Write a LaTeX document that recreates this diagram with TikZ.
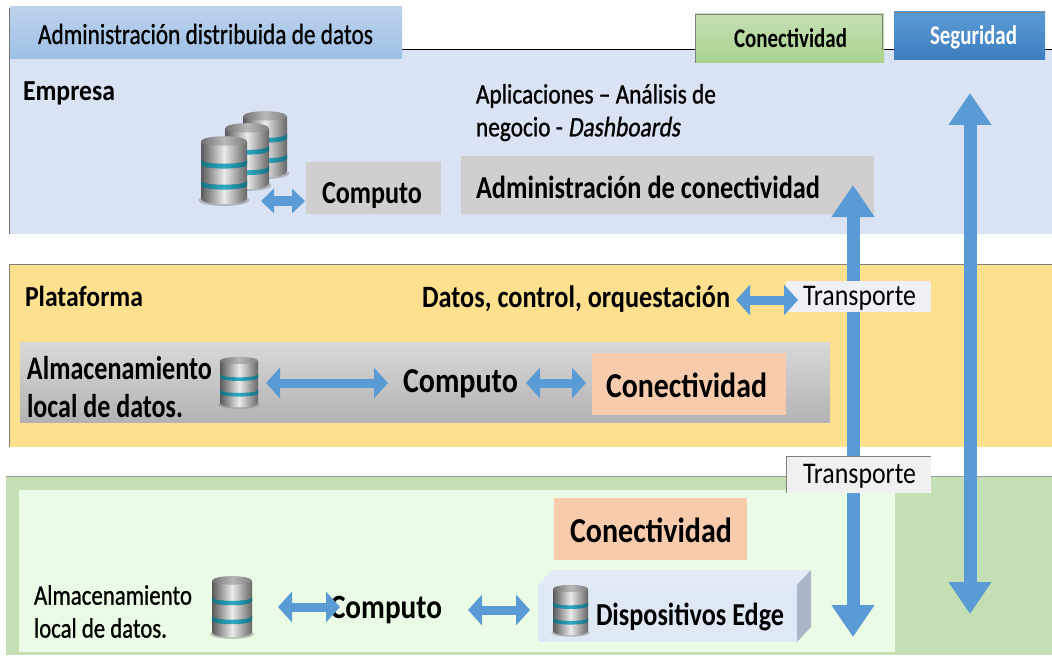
\documentclass[tikz,border=0pt]{standalone}
\usepackage{fontspec}
\setmainfont{Carlito}
\newcommand{\semi}{\bfseries}
\newfontfamily\semil[FakeBold=1]{Carlito}
\newfontfamily\semii[FakeBold=1,FakeSlant=0.18]{Carlito}
\usetikzlibrary{arrows.meta}
\definecolor{empresaBg}{HTML}{D9E3F3}
\definecolor{plataBg}{HTML}{FEE08F}
\definecolor{edgeBg}{HTML}{C5DFB5}
\definecolor{edgeIn}{HTML}{EAFCE5}
\definecolor{arrowBlue}{HTML}{5B9BD5}
\definecolor{boxGray}{HTML}{D0CECE}
\definecolor{orangeBox}{HTML}{F8CBAD}
\definecolor{titleTop}{HTML}{BDD2EC}
\definecolor{titleBot}{HTML}{9DC0E6}
\definecolor{edgeFront}{HTML}{DFE9F5}
\definecolor{edgeTop}{HTML}{E3ECF6}
\definecolor{edgeSide}{HTML}{A9B6C6}
\definecolor{dbBand}{HTML}{2FA9C4}
\definecolor{dbBandDark}{HTML}{15707F}
\definecolor{trA}{HTML}{EEF0F6}
\newcommand{\fitw}[3]{\resizebox{#1pt}{\height}{\fontsize{#2pt}{#2pt}\selectfont #3}}
\newcommand{\dbicon}[4]{%
\begin{scope}[shift={(#1,#2)},x=#3pt,y=-#4pt]
\fill[black!45,opacity=.55] (-.05,.93) .. controls (-.05,1.04) and (1.05,1.04) .. (1.05,.93) .. controls (1.05,.85) and (-.05,.85) .. (-.05,.93) -- cycle;
\shade[left color=black!65,right color=black!60,middle color=black!8] (0,.1) -- (0,.9) .. controls (0,1.02) and (1,1.02) .. (1,.9) -- (1,.1) .. controls (1,0) and (0,0) .. (0,.1) -- cycle;
\shade[left color=black!55,right color=black!50,middle color=black!28] (0,.1) .. controls (0,.17) and (1,.17) .. (1,.1) .. controls (1,-.01) and (0,-.01) .. (0,.1) -- cycle;
\foreach \by in {.35,.65}{
\shade[left color=dbBandDark,right color=dbBandDark,middle color=dbBand] (0,\by) -- (0,\by+.07) .. controls (0,\by+.15) and (1,\by+.15) .. (1,\by+.07) -- (1,\by) .. controls (1,\by+.08) and (0,\by+.08) .. (0,\by) -- cycle;
}
\end{scope}}
\tikzset{
 label/.style={inner sep=0pt,outer sep=0pt,anchor=west,text=black,yshift=-1pt},
 blockarrow/.style={draw=arrowBlue,line width=9pt,{Triangle[length=14pt,width=30pt]}-{Triangle[length=14pt,width=30pt]}},
 smallarrow/.style={draw=arrowBlue,line width=10pt,{Triangle[length=13pt,width=24pt]}-{Triangle[length=13pt,width=24pt]}},
 bigarrow/.style={draw=arrowBlue,line width=13pt,{Triangle[length=32pt,width=41pt]}-{Triangle[length=32pt,width=41pt]}},
 txtbox/.style={inner sep=0pt,outer sep=0pt}
}
\begin{document}
\begin{tikzpicture}[x=1pt,y=-1pt]
\useasboundingbox (0,0) rectangle (1052,658);
\fill[white] (0,0) rectangle (1052,658);
% bands
\fill[empresaBg] (9,50) rectangle (1052,234);
\draw[black,line width=1pt] (400,50) -- (1052,50);
\draw[black!55,line width=1pt] (9,8) -- (9,234);
\fill[plataBg] (9,264) rectangle (1052,447);
\draw[black!50,line width=.8pt] (9,264) -- (1052,264);
\draw[black!50,line width=.8pt] (9,264) -- (9,447);
\fill[edgeBg] (6,476) rectangle (1052,655);
\draw[black!40,line width=.8pt] (6,476) -- (1052,476);
\fill[edgeIn] (19,490) rectangle (895,652);
% tabs
\shade[top color=titleTop,bottom color=titleBot] (10,7) rectangle (402,59);
\node[label] (title) at (38,33) {\fitw{335}{29}{\semil Administración distribuida de datos}};
\shade[top color={rgb,255:red,197;green,224;blue,180},bottom color={rgb,255:red,169;green,209;blue,142}] (695,14) rectangle (884,63);
\draw[black!50,line width=.8pt] (695,63) -- (695,14) -- (882,14) -- (882,50);
\node[label] (tabcon) at (734,37) {\fitw{113}{27}{\semi Conectividad}};
\shade[top color={rgb,255:red,91;green,155;blue,213},bottom color={rgb,255:red,62;green,125;blue,190}] (894,12) rectangle (1045,60);
\draw[black!50,line width=.8pt] (894,12) -- (1045,12);
\node[label,text=white] (tabseg) at (930,36) {\fitw{87}{27}{\bfseries Seguridad}};
% empresa
\node[label] (empresa) at (23,92) {\fitw{92}{29}{\semi Empresa}};
\node[label] (apl1) at (476,95) {\fitw{240}{28}{\semil Aplicaciones – Análisis de}};
\node[label] (apl2) at (476,128) {\fitw{204}{28}{\semil negocio - \semii Dashboards}};
\dbicon{243}{110}{44}{68}
\dbicon{225}{122}{44}{68}
\dbicon{201}{135}{46}{70}
\node[txtbox,fill=boxGray,minimum width=135pt,minimum height=52pt] (compA) at (373.5,188) {};
\node[label] (compAt) at (322,195) {\fitw{100}{32}{\semi Computo}};
\node[txtbox,fill=boxGray,minimum width=413pt,minimum height=58pt] (admin) at (667,185) {};
\node[label] (admint) at (476,186) {\fitw{344}{32}{\semi Administración de conectividad}};
\coordinate (aL) at (261,201);
\coordinate (aR) at (305,201);
\draw[smallarrow] (aL) -- (aR);
% plataforma
\node[label] (plat) at (25,295) {\fitw{118}{29}{\semi Plataforma}};
\node[label] (datos) at (422,298) {\fitw{308}{31}{\semi Datos, control, orquestación}};
\shade[top color=black!15,bottom color=black!30] (20,342) rectangle (830,422);
\node[label] (alm1) at (27,367) {\fitw{185}{33}{\semi Almacenamiento}};
\node[label] (alm2) at (27,405) {\fitw{156}{33}{\semi local de datos.}};
\dbicon{220}{356}{38}{52}
\node[label] (compB) at (403,383) {\fitw{115}{35}{\semi Computo}};
\node[txtbox,fill=orangeBox,minimum width=194pt,minimum height=62pt] (conB) at (689,384) {};
\node[label] (conBt) at (606,384) {\fitw{161}{35}{\semi Conectividad}};
\coordinate (bL) at (266,383);
\coordinate (bR) at (388,383);
\draw[blockarrow] (bL) -- (bR);
\coordinate (cL) at (526,383);
\coordinate (cR) at (586,383);
\draw[blockarrow] (cL) -- (cR);
% edge
\node[txtbox,fill=orangeBox,minimum width=193pt,minimum height=62pt] (conC) at (650.5,529) {};
\node[label] (conCt) at (570,529) {\fitw{162}{35}{\semi Conectividad}};
\fill[edgeTop] (538,585) -- (552,570) -- (811,570) -- (797,585) -- cycle;
\fill[edgeFront] (538,585) rectangle (797,642);
\fill[edgeSide] (797,585) -- (811,570) -- (811,627) -- (797,642) -- cycle;
\dbicon{553}{584}{35}{52}
\node[label] (disp) at (596,616) {\fitw{188}{32}{\semi Dispositivos Edge}};
\node[label] (alm3) at (34,594) {\fitw{158}{28}{\semil Almacenamiento}};
\node[label] (alm4) at (34,627) {\fitw{133}{28}{\semil local de datos.}};
\dbicon{212}{575}{40}{63}
\node[label] (compC) at (330,609) {\fitw{112}{34}{\semi Computo}};
\coordinate (dL) at (278,607);
\coordinate (dR) at (340,607);
\draw[blockarrow] (dL) -- (dR);
\coordinate (eL) at (468,610);
\coordinate (eR) at (530,610);
\draw[blockarrow] (eL) -- (eR);
% long arrows
\coordinate (mT) at (853,185);
\coordinate (mB) at (853,637);
\draw[bigarrow] (mT) -- (mB);
\coordinate (sT) at (970,93);
\coordinate (sB) at (970,614);
\draw[bigarrow] (sT) -- (sB);
% transporte
\node[txtbox,fill=trA,minimum width=145pt,minimum height=31pt] (trAbox) at (858.5,296.5) {};
\node[label] (trAt) at (803,297) {\fitw{113}{30}{Transporte}};
\node[txtbox,fill=black!6,minimum width=145pt,minimum height=37pt] (trBbox) at (858.5,474.5) {};
\draw[black!50,line width=.8pt] (trBbox.south west) -- (trBbox.north west) -- (trBbox.north east);
\node[label] (trBt) at (803,475) {\fitw{113}{30}{Transporte}};
\coordinate (fL) at (736,300);
\coordinate (fR) at (798,300);
\draw[blockarrow] (fL) -- (fR);
\end{tikzpicture}
\end{document}
